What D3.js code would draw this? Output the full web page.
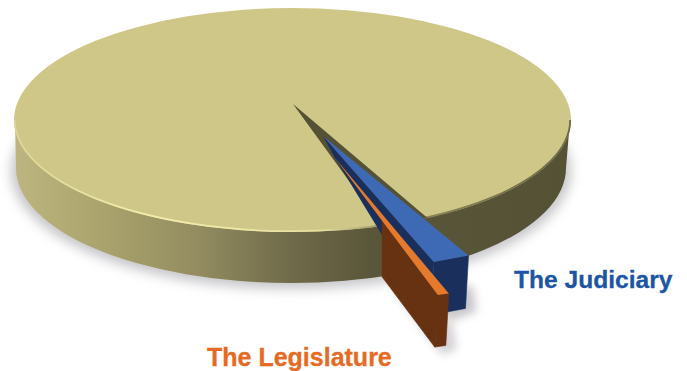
<!DOCTYPE html>
<html>
<head>
<meta charset="utf-8">
<style>
html, body { margin: 0; padding: 0; background: #fff; }
svg { display: block; }
</style>
<script src="https://cdn.jsdelivr.net/npm/d3@7/dist/d3.min.js"></script>
</head>
<body>
<svg id="chart" width="687" height="371"></svg>
<script>
// Shares of the pie, in percent
const branches = ["The Judiciary", "The Legislature", "The Executive"];
const shares = [2.19, 0.67, 97.14];
const topColors = ["#3d69b5", "#e67a2c", "#cfc787"];
const sideColors = ["#1a2f5c", "#663211", "#555135"];
const labelColors = ["#1b55a5", "#e56b24"];

const svg = d3.select("#chart");
const defs = svg.append("defs");

// Disc projection: the rim is an ellipse and the hub sits behind its centre
const disc = { cx: 292.5, cy: 120, rx: 278.5, ry: 112, hubX: 293, hubY: 104 };
const wall = { cx: 291, cy: 168, rx: 275, ry: 115 };
const rim = a => [disc.cx + disc.rx * Math.sin(a), disc.cy - disc.ry * Math.cos(a)];

const arcs = d3.pie().sort(null).value(d => d)
  .startAngle(151 * Math.PI / 180)
  .endAngle((151 + 360) * Math.PI / 180)(shares);

// Pulled-out pieces: how far the hub and rim move, and how the walls extrude
const pull = [
  { hub: [30, 32], rim: [41, 37.5], drop: [-3, 53] },
  { hub: [42, 54], rim: [56, 69], drop: [-3, 52] }
];

// Soft filters
const blur = (id, s) => defs.append("filter").attr("id", id)
  .attr("x", "-20%").attr("y", "-20%").attr("width", "140%").attr("height", "140%")
  .append("feGaussianBlur").attr("stdDeviation", s);
blur("soft8", 6);
blur("soft4", 4);
blur("soft05", 0.5);

// Shading around the wall of the disc, light on the left and dark on the right
const wallStops = [[0, "#bcb57f"], [0.14, "#aca56e"], [0.33, "#928c60"], [0.5, "#6f6a49"],
                   [0.64, "#5a5639"], [1, "#555135"]];
const wallGrad = defs.append("linearGradient").attr("id", "wallGrad")
  .attr("gradientUnits", "userSpaceOnUse").attr("x1", 16).attr("x2", 570).attr("y1", 0).attr("y2", 0);
wallStops.forEach(s => wallGrad.append("stop").attr("offset", s[0]).attr("stop-color", s[1]));

// Bevel along the front of the rim: a pale lip at left fading to a dark edge at right
const rimGrad = defs.append("linearGradient").attr("id", "rimGrad")
  .attr("gradientUnits", "userSpaceOnUse").attr("x1", 14).attr("x2", 572).attr("y1", 0).attr("y2", 0);
[[0, "#dcd596"], [0.25, "#f3eeae"], [0.55, "#e6dfa0"], [0.68, "#8d8858"], [1, "#6e6a46"]]
  .forEach(s => rimGrad.append("stop").attr("offset", s[0]).attr("stop-color", s[1]));

const line = d3.line();
const poly = (pts, fill, filter) => {
  const p = svg.append("path").attr("d", line(pts) + "Z").attr("fill", fill);
  if (filter) p.attr("filter", filter);
  return p;
};
const add = (p, o) => [p[0] + o[0], p[1] + o[1]];

// Ground shadow of the disc
svg.append("ellipse").attr("cx", wall.cx).attr("cy", wall.cy + 3)
  .attr("rx", wall.rx + 5).attr("ry", wall.ry + 3)
  .attr("fill", "#c6c6ca").attr("filter", "url(#soft8)");

// Wall of the disc, then its top
svg.append("path")
  .attr("d", `M${disc.cx - disc.rx + 1},${disc.cy} L${wall.cx - wall.rx},${wall.cy}
              A${wall.rx},${wall.ry} 0 0 0 ${wall.cx + wall.rx},${wall.cy}
              L${disc.cx + disc.rx - 1},${disc.cy} Z`)
  .attr("fill", "url(#wallGrad)");
svg.append("ellipse").attr("cx", disc.cx).attr("cy", disc.cy)
  .attr("rx", disc.rx).attr("ry", disc.ry).attr("fill", topColors[2]);
svg.append("path")
  .attr("d", `M${disc.cx - disc.rx + 0.8},${disc.cy}
              A${disc.rx - 0.8},${disc.ry - 0.8} 0 0 0 ${disc.cx + disc.rx - 0.8},${disc.cy}`)
  .attr("fill", "none").attr("stroke", "url(#rimGrad)").attr("stroke-width", 1.8)
  .attr("filter", "url(#soft05)");

// Gap left in the disc by the two pulled-out pieces
const hub = [disc.hubX, disc.hubY];
poly([hub, rim(arcs[0].startAngle), rim(arcs[1].endAngle)], sideColors[2], "url(#soft05)");

// Pulled-out pieces
const pieces = [0, 1].map(i => {
  const o = pull[i];
  const h = add(hub, o.hub);
  const near = add(rim(arcs[i].endAngle), o.rim);
  const far = add(rim(arcs[i].startAngle), o.rim);
  return { h, near, far, o };
});

// Shadows the pieces throw on the ground
const g0 = pieces[0];
poly([add(g0.far, [4, 30]), add(g0.far, [8, 56]), add(g0.near, [14, 60]), add(g0.near, [0, 30])],
     "#c8c8cc", "url(#soft4)");
const g1 = pieces[1];
poly([add(g1.far, [4, 30]), add(g1.far, [8, 56]), add(g1.near, [4, 60]), [wall.cx + 100, 286]],
     "#d4d4d8", "url(#soft4)");

// Judiciary: inner wall, outer face, top
poly([g0.h, g0.near, add(g0.near, g0.o.drop), g1.h], sideColors[0]);
poly([g0.near, g0.far, add(g0.far, g0.o.drop), add(g0.near, g0.o.drop)], sideColors[0])
  .attr("stroke", sideColors[0]).attr("stroke-width", 0.6);
poly([g0.h, g0.far, g0.near], topColors[0]);

// Legislature: the inner wall only shows in front of the disc's rim
const rimEdge = rim(arcs[1].endAngle)[0];
defs.append("clipPath").attr("id", "frontOfRim").append("rect")
  .attr("x", rimEdge).attr("y", 0).attr("width", 687 - rimEdge).attr("height", 371);
const g1Wall = [g1.h, g1.near, add(g1.near, g1.o.drop), add(g1.h, g1.o.drop)];
poly([g1.near, g1.far, add(g1.far, g1.o.drop), add(g1.near, g1.o.drop)], sideColors[1])
  .attr("stroke", sideColors[1]).attr("stroke-width", 0.6);
poly(g1Wall, sideColors[1]).attr("clip-path", "url(#frontOfRim)")
  .attr("stroke", sideColors[1]).attr("stroke-width", 0.8);
poly([g1.h, g1.far, g1.near], topColors[1]);

// Branch labels
const labelSpots = [{ x: 514, y: 288, size: 24.6 }, { x: 207, y: 365.5, size: 25 }];
[0, 1].forEach(i => {
  svg.append("text")
    .attr("x", labelSpots[i].x).attr("y", labelSpots[i].y)
    .attr("font-family", "'Liberation Sans', sans-serif").attr("font-weight", "bold")
    .attr("font-size", labelSpots[i].size).attr("fill", labelColors[i])
    .attr("stroke", labelColors[i]).attr("stroke-width", 0.3)
    .text(branches[i]);
});
</script>
</body>
</html>
